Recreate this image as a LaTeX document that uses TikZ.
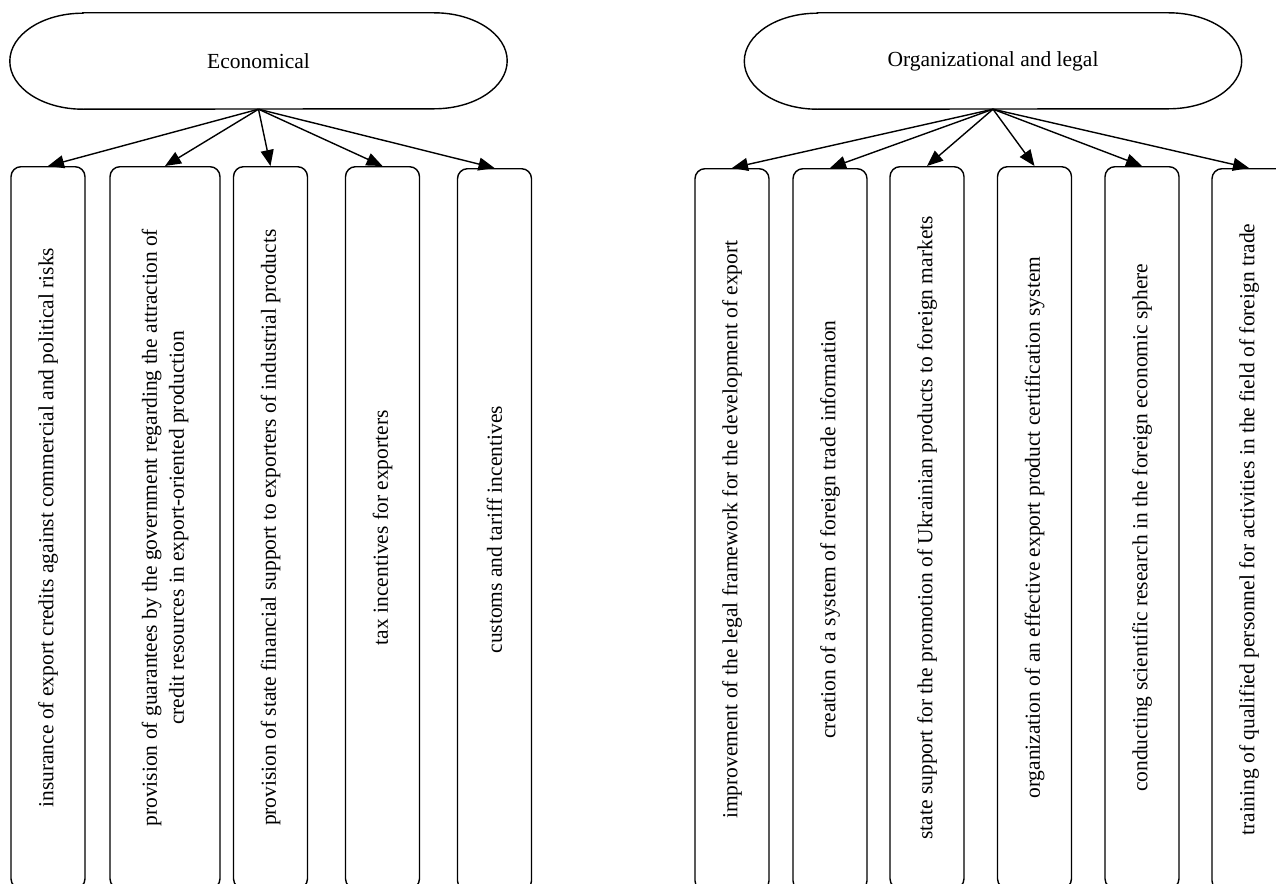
\documentclass[tikz,border=0pt]{standalone}
\usepackage{fontspec}
\setmainfont{Liberation Serif}
\usepackage{graphicx}
\usetikzlibrary{arrows.meta}

\tikzset{
  every node/.style={font=\fontsize{21.5}{27}\selectfont},
  factor/.style={minimum width=497pt, minimum height=96pt, inner sep=0pt},
  measure/.style={draw, line width=1.4pt, rounded corners=10pt, minimum width=74pt,
    minimum height=722pt, inner sep=0pt, anchor=north},
  link/.style={-{Triangle[length=16pt,width=13pt]}, line width=1.4pt},
  stadium/.style={line width=1.4pt}
}

\begin{document}
\begin{tikzpicture}[x=1pt,y=1pt]
  \useasboundingbox (0,0) rectangle (1276,-883);

  % two groups of state measures
  \node[factor] (econ) at (258.5,-61) {Economical};
  \node[factor] (org) at (993,-61) {Organizational and legal};
  \foreach \g in {econ,org}
    \draw[stadium] ([xshift=73pt]\g.north west) -- ([xshift=-73pt]\g.north east)
      arc[start angle=90,end angle=-90,x radius=73pt,y radius=48pt]
      -- ([xshift=73pt]\g.south west)
      arc[start angle=270,end angle=90,x radius=73pt,y radius=48pt] -- cycle;

  % economical measures
  \node[measure] (e1) at (48,-166) {\rotatebox{90}{insurance of export credits against commercial and political risks}};
  \node[measure, minimum width=110pt] (e2) at (165,-166) {\rotatebox{90}{\begin{tabular}{@{}c@{}}provision of guarantees by the government regarding the attraction of\\ credit resources in export-oriented production\end{tabular}}};
  \node[measure] (e3) at (270.5,-166) {\rotatebox{90}{provision of state financial support to exporters of industrial products}};
  \node[measure] (e4) at (382.5,-166) {\rotatebox{90}{tax incentives for exporters}};
  \node[measure] (e5) at (494.5,-168) {\rotatebox{90}{customs and tariff incentives}};

  % organizational and legal measures
  \node[measure] (o1) at (732,-168) {\rotatebox{90}{improvement of the legal framework for the development of export}};
  \node[measure] (o2) at (830,-168) {\rotatebox{90}{creation of a system of foreign trade information}};
  \node[measure] (o3) at (927,-166) {\rotatebox{90}{state support for the promotion of Ukrainian products to foreign markets}};
  \node[measure] (o4) at (1034.5,-166) {\rotatebox{90}{organization of an effective export product certification system}};
  \node[measure] (o5) at (1142,-166) {\rotatebox{90}{conducting scientific research in the foreign economic sphere}};
  \node[measure] (o6) at (1249,-168) {\rotatebox{90}{training of qualified personnel for activities in the field of foreign trade}};

  \foreach \b in {e1,e2,e3,e4,e5}
    \draw[link] (econ.south) -- (\b.north);
  \foreach \b in {o1,o2,o3,o4,o5,o6}
    \draw[link] (org.south) -- (\b.north);
\end{tikzpicture}
\end{document}
